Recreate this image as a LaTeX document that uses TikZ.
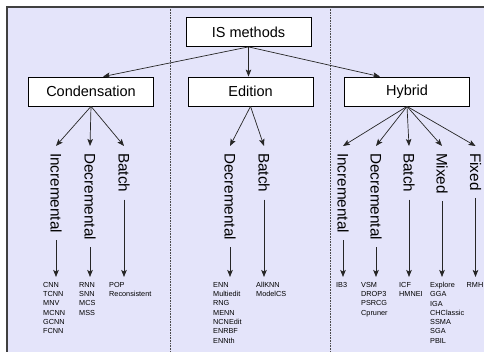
\documentclass[tikz,border=0pt]{standalone}
\usepackage{fontspec}
\setmainfont{Liberation Sans}
\usetikzlibrary{arrows.meta,calc}
\definecolor{panel}{RGB}{228,228,250}
\begin{document}
\begin{tikzpicture}[x=1pt,y=-1pt,
  box/.style={draw=black,fill=white,line width=0.8pt,minimum width=125pt,
    minimum height=29pt,inner sep=0pt,font=\fontsize{14.5}{17}\selectfont},
  branch/.style={rotate=-90,anchor=west,inner xsep=7pt,inner ysep=0pt,
    font=\fontsize{15.3}{18}\selectfont},
  leaves/.style={anchor=north west,align=left,inner xsep=0pt,inner ysep=5pt,
    font=\fontsize{7.3}{9.3}\selectfont},
  link/.style={draw=black!85,line width=0.7pt,
    -{Stealth[length=7pt,width=5.5pt,inset=1.5pt]}},
  divider/.style={draw=black!70,densely dotted,line width=0.6pt},
  frame/.style={draw=black!75,line width=1.2pt}]

% canvas and panel
\useasboundingbox (0,0) rectangle (484,352);
\fill[white] (0,0) rectangle (484,352);
\fill[panel] (7,7) rectangle (484,352);
\draw[frame] (7,352) -- (7,7) -- (484,7);
\draw[divider] (170,7) -- (170,352);
\draw[divider] (330,7) -- (330,352);

% top levels
\node[box] (is) at (248.5,32) {IS methods};
\node[box] (cond) at (91,91.5) {Condensation};
\node[box] (edit) at (250.5,91.5) {Edition};
\node[box] (hyb) at (407,91.5) {Hybrid};

\draw[link] (is.south) -- ($(cond.north)+(12,0)$);
\draw[link] (is.south) -- (is.south |- edit.north);
\draw[link] (is.south) -- ($(hyb.north)+(-27,0)$);

% strategies
\node[branch] (cI) at (56,146) {Incremental};
\node[branch] (cD) at (90,146) {Decremental};
\node[branch] (cB) at (124,146) {Batch};
\node[branch] (eD) at (230,146) {Decremental};
\node[branch] (eB) at (264,146) {Batch};
\node[branch] (hI) at (343,146) {Incremental};
\node[branch] (hD) at (376,146) {Decremental};
\node[branch] (hB) at (409,146) {Batch};
\node[branch] (hM) at (442,146) {Mixed};
\node[branch] (hF) at (475.5,146) {Fixed};

\foreach \p/\c in {cond/cI,cond/cD,cond/cB,edit/eD,edit/eB,
                   hyb/hI,hyb/hD,hyb/hB,hyb/hM,hyb/hF}
  \draw[link] (\p.south) -- (\c.west);

% methods
\node[leaves] (lcI) at (43,277) {CNN\\TCNN\\MNV\\MCNN\\GCNN\\FCNN};
\node[leaves] (lcD) at (79,277) {RNN\\SNN\\MCS\\MSS};
\node[leaves] (lcB) at (109,277) {POP\\Reconsistent};
\node[leaves] (leD) at (213,277) {ENN\\Multiedit\\RNG\\MENN\\NCNEdit\\ENRBF\\ENNth};
\node[leaves] (leB) at (256,277) {AllKNN\\ModelCS};
\node[leaves] (lhI) at (336,277) {IB3};
\node[leaves] (lhD) at (361,277) {VSM\\DROP3\\PSRCG\\Cpruner};
\node[leaves] (lhB) at (399,277) {ICF\\HMNEI};
\node[leaves] (lhM) at (430,277) {Explore\\GGA\\IGA\\CHClassic\\SSMA\\SGA\\PBIL};
\node[leaves] (lhF) at (466.5,277) {RMH};

\foreach \c/\l in {cI/lcI,cD/lcD,cB/lcB,eD/leD,eB/leB,
                   hI/lhI,hD/lhD,hB/lhB,hM/lhM,hF/lhF}
  \draw[link] (\c.east) -- (\c.east |- \l.north);
\end{tikzpicture}
\end{document}
